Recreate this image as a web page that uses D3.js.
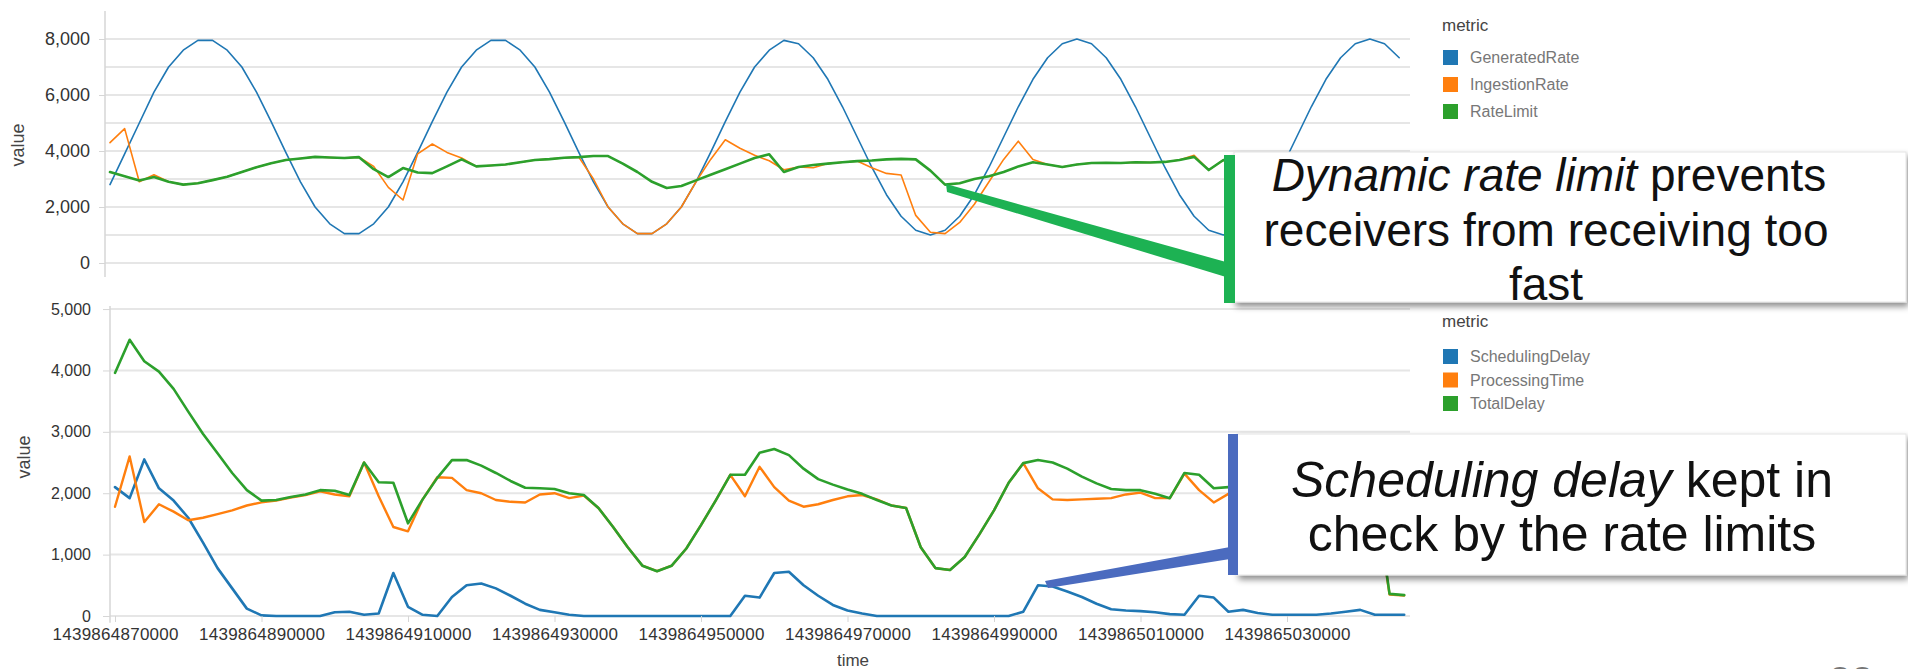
<!DOCTYPE html>
<meta charset="utf-8">
<style>
    body { margin: 0; background: #fff; }
    svg { font-family: "Liberation Sans", Arial, sans-serif; }
    .grid line { stroke: #e6e6e6; stroke-width: 2; }
    .axis path { display: none; }
    .axis line { stroke: #d6d6d6; }
    .axis text { fill: #333; }
    .series { fill: none; stroke-linejoin: round; stroke-linecap: round; }
    .legend text { fill: #777; font-size: 16px; }
    .legend .title { fill: #444; font-size: 17px; }
    .callout text { fill: #111; }
</style>
<svg width="1908" height="669"></svg>
<script src="https://cdn.jsdelivr.net/npm/d3@7/dist/d3.min.js"></script>
<script>

    // ---- data ----
    var T0 = 1439864870000;
    // seconds after T0 for every sample
    var secs = [0, 2, 4, 6, 8, 10, 12, 14, 16, 18, 20, 22, 24, 26, 28, 30, 32, 34, 36, 38,
        40, 42, 44, 46, 48, 50, 52, 54, 56, 58, 60, 62, 64, 66, 68, 70, 72, 74, 76, 78,
        80, 82, 84, 86, 88, 90, 92, 94, 96, 98, 100, 102, 104, 106, 108, 110, 112, 114, 116, 118,
        120, 122, 124, 126, 128, 130, 132, 134, 136, 138, 140, 142, 144, 146, 148, 150, 152, 154, 156, 158,
        160, 162, 164, 166, 168, 170, 172, 174, 176];

    var xTicks = [1439864870000, 1439864890000, 1439864910000, 1439864930000, 1439864950000,
        1439864970000, 1439864990000, 1439865010000, 1439865030000];

    var topTicks = [0, 2000, 4000, 6000, 8000];
    var topGrid = [0, 1000, 2000, 3000, 4000, 5000, 6000, 7000, 8000];
    var botTicks = [0, 1000, 2000, 3000, 4000, 5000];

    var topMetrics = ["GeneratedRate", "IngestionRate", "RateLimit"];
    var botMetrics = ["SchedulingDelay", "ProcessingTime", "TotalDelay"];

    var generatedRate = [2800, 3900, 5000, 6100, 7000, 7600, 7950, 7950, 7600, 7000,
        6100, 5050, 3950, 2900, 2000, 1400, 1050, 1050, 1400, 2000,
        2900, 3950, 5050, 6100, 7000, 7600, 7950, 7950, 7600, 7000,
        6100, 5050, 3950, 2900, 2000, 1400, 1050, 1050, 1400, 2000,
        2900, 3950, 5050, 6100, 7000, 7600, 7950, 7830, 7330, 6560,
        5580, 4500, 3420, 2440, 1670, 1170, 1000, 1170, 1670, 2440,
        3420, 4500, 5580, 6560, 7330, 7830, 8000, 7830, 7330, 6560,
        5580, 4500, 3420, 2440, 1670, 1170, 1000, 1170, 1670, 2440,
        3420, 4500, 5580, 6560, 7330, 7830, 8000, 7830, 7330];

    var ingestionRate = [4300, 4800, 2900, 3150, 2900, 2800, 2850, 2960, 3080, 3250,
        3420, 3560, 3680, 3730, 3790, 3770, 3750, 3780, 3450, 2700,
        2250, 3900, 4250, 3950, 3750, 3450, 3480, 3520, 3600, 3680,
        3710, 3760, 3780, 3000, 2000, 1400, 1050, 1050, 1400, 2000,
        2900, 3700, 4400, 4100, 3850, 3650, 3330, 3430, 3400, 3550,
        3600, 3640, 3400, 3200, 3140, 1700, 1100, 1050, 1450, 2100,
        2900, 3700, 4350, 3700, 3520, 3430, 3520, 3570, 3580, 3570,
        3600, 3590, 3610, 3680, 3850, 3320, 3680, 3000, 2000, 1500,
        1200, 1300, 1900, 2700, 3500, 3600, 3620, 3600, 3610];

    var rateLimit = [3250, 3100, 2950, 3070, 2900, 2800, 2850, 2960, 3080, 3250,
        3420, 3560, 3680, 3730, 3790, 3770, 3750, 3780, 3350, 3070,
        3390, 3230, 3210, 3450, 3700, 3450, 3480, 3520, 3600, 3680,
        3710, 3760, 3780, 3820, 3820, 3550, 3250, 2900, 2680, 2750,
        2950, 3150, 3350, 3550, 3750, 3880, 3250, 3430, 3500, 3550,
        3600, 3640, 3660, 3700, 3720, 3700, 3300, 2800, 2850, 3000,
        3100, 3250, 3450, 3600, 3520, 3430, 3520, 3570, 3580, 3570,
        3600, 3590, 3610, 3680, 3790, 3320, 3680, 3600, 3620, 3580,
        3600, 3620, 3600, 3580, 3600, 3620, 3600, 3610, 3600];

    var schedulingDelay = [2100, 1920, 2550, 2080, 1880, 1600, 1200, 780, 450, 120,
        10, 0, 0, 0, 0, 60, 70, 20, 40, 700,
        150, 20, 0, 310, 500, 530, 450, 330, 200, 100,
        60, 20, 0, 0, 0, 0, 0, 0, 0, 0,
        0, 0, 0, 330, 300, 700, 720, 500, 330, 180,
        90, 40, 0, 0, 0, 0, 0, 0, 0, 0,
        0, 0, 70, 500, 480, 400, 310, 200, 110, 90,
        80, 60, 30, 20, 330, 300, 70, 100, 50, 20,
        20, 20, 20, 40, 70, 100, 20, 20, 20];

    var processingTime = [1780, 2600, 1530, 1820, 1700, 1560, 1600, 1660, 1720, 1800,
        1850, 1880, 1930, 1970, 2030, 1980, 1950, 2500, 1950, 1450,
        1380, 1900, 2260, 2250, 2050, 2000, 1890, 1860, 1850, 1980,
        2000, 1920, 1960, 1760, 1450, 1120, 820, 730, 820, 1100,
        1480, 1880, 2300, 1950, 2430, 2100, 1880, 1780, 1820, 1890,
        1950, 1970, 1900, 1800, 1760, 1120, 780, 750, 960, 1330,
        1720, 2170, 2490, 2080, 1900, 1890, 1900, 1910, 1920, 1980,
        2010, 1920, 1920, 2320, 2050, 1850, 1990, 1950, 1900, 1950,
        2000, 1950, 1900, 1950, 2000, 1980, 1950, 350, 335];

    var totalDelay = [3960, 4500, 4150, 3980, 3700, 3330, 2970, 2650, 2330, 2050,
        1880, 1890, 1940, 1980, 2050, 2040, 1970, 2500, 2180, 2170,
        1510, 1900, 2250, 2540, 2540, 2450, 2330, 2200, 2090, 2080,
        2070, 2000, 1970, 1760, 1450, 1120, 820, 730, 820, 1100,
        1480, 1880, 2300, 2300, 2660, 2720, 2620, 2400, 2230, 2140,
        2060, 1990, 1890, 1800, 1760, 1120, 780, 750, 960, 1330,
        1720, 2170, 2490, 2540, 2500, 2400, 2270, 2160, 2070, 2050,
        2050, 1990, 1920, 2330, 2300, 2080, 2100, 2050, 2000, 2050,
        2100, 2050, 2000, 2050, 2100, 2080, 2050, 360, 340];

    var colors = ["#1f77b4", "#ff7f0e", "#2ca02c"];

    var times = secs.map(function (s) { return T0 + s * 1000; });

    var svg = d3.select("svg");

    var defs = svg.append("defs");
    var shadow = defs.append("filter").attr("id", "shadow")
        .attr("x", "-5%").attr("y", "-10%").attr("width", "115%").attr("height", "130%");
    shadow.append("feDropShadow")
        .attr("dx", 2).attr("dy", 4).attr("stdDeviation", 3)
        .attr("flood-color", "#000").attr("flood-opacity", 0.45);

    // ---- scales ----
    var xTop = d3.scaleLinear().domain([xTicks[0], xTicks[8]]).range([110, 1282]);
    var xBot = d3.scaleLinear().domain([xTicks[0], xTicks[8]]).range([115, 1287]);
    var yTop = d3.scaleLinear().domain([-500, 9000]).range([277, 11]);
    var yBot = d3.scaleLinear().domain([-110, 5050]).range([622.75, 306]);

    function drawPanel(opts) {
        var g = svg.append("g");

        g.append("g").attr("class", "grid")
            .selectAll("line")
            .data(opts.grid)
            .enter().append("line")
            .attr("x1", opts.left).attr("x2", 1410)
            .attr("y1", function (d) { return opts.y(d); })
            .attr("y2", function (d) { return opts.y(d); });

        g.append("line")
            .attr("x1", opts.left).attr("x2", opts.left)
            .attr("y1", opts.y.range()[0]).attr("y2", opts.y.range()[1])
            .attr("stroke", "#d6d6d6").attr("stroke-width", 1.5);

        var ax = g.append("g").attr("class", "axis")
            .attr("transform", "translate(" + opts.left + ",0)")
            .call(d3.axisLeft(opts.y)
                .tickValues(opts.ticks)
                .tickFormat(d3.format(","))
                .tickSize(opts.tickSize)
                .tickPadding(opts.tickPad));
        ax.selectAll("text").style("font-size", opts.labelSize + "px");

        g.append("text")
            .attr("transform", "translate(" + opts.titleX + "," + opts.titleY + ") rotate(-90)")
            .attr("text-anchor", "middle")
            .attr("fill", "#444")
            .style("font-size", "18px")
            .text("value");

        var line = d3.line()
            .x(function (d) { return opts.x(d[0]); })
            .y(function (d) { return opts.y(d[1]); });

        opts.series.forEach(function (vals, k) {
            g.append("path")
                .attr("class", "series")
                .attr("stroke", colors[k])
                .attr("stroke-width", opts.widths[k])
                .attr("d", line(times.map(function (t, i) { return [t, vals[i]]; })));
        });

        var lg = g.append("g").attr("class", "legend");
        lg.append("text").attr("class", "title")
            .attr("x", 1442).attr("y", opts.legY).text("metric");
        opts.names.forEach(function (name, k) {
            var cy = opts.legY + opts.legStart + k * opts.legStep;
            lg.append("rect")
                .attr("x", 1443).attr("y", cy - 7)
                .attr("width", 15).attr("height", 15)
                .attr("fill", colors[k]);
            lg.append("text")
                .attr("x", 1470).attr("y", cy + 6)
                .text(name);
        });
        return g;
    }

    drawPanel({
        x: xTop, y: yTop, left: 105, grid: topGrid, ticks: topTicks,
        tickSize: 6, tickPad: 9, labelSize: 18, titleX: 24, titleY: 145,
        series: [generatedRate, ingestionRate, rateLimit], widths: [1.6, 1.6, 2.6],
        names: topMetrics, legY: 31, legStart: 26, legStep: 27
    });

    var bottom = drawPanel({
        x: xBot, y: yBot, left: 110, grid: botTicks, ticks: botTicks,
        tickSize: 7, tickPad: 12, labelSize: 16, titleX: 30, titleY: 457,
        series: [schedulingDelay, processingTime, totalDelay], widths: [2.6, 2.4, 2.6],
        names: botMetrics, legY: 327, legStart: 29, legStep: 23.5
    });

    var xa = bottom.append("g").attr("class", "axis")
        .attr("transform", "translate(0," + yBot(0) + ")")
        .call(d3.axisBottom(xBot)
            .tickValues(xTicks)
            .tickFormat(d3.format("d"))
            .tickSize(6)
            .tickPadding(6));
    xa.selectAll("text").style("font-size", "17px").attr("textLength", 126);

    bottom.append("text")
        .attr("x", 853).attr("y", 666)
        .attr("text-anchor", "middle")
        .attr("fill", "#444")
        .style("font-size", "17px")
        .text("time");

    // ---- callouts ----
    var c1 = svg.append("g").attr("class", "callout");
    c1.append("polygon")
        .attr("points", "946,184 1226,262 1226,277 947,192")
        .attr("fill", "#1db253");
    c1.append("rect")
        .attr("x", 1234).attr("y", 152).attr("width", 672).attr("height", 150)
        .attr("fill", "#fff").attr("stroke", "#e4e4e4")
        .attr("filter", "url(#shadow)");
    c1.append("rect")
        .attr("x", 1224).attr("y", 155).attr("width", 11).attr("height", 148)
        .attr("fill", "#1db253");
    var t1 = c1.append("text").attr("text-anchor", "middle").style("font-size", "46px");
    var l1 = t1.append("tspan").attr("x", 1549).attr("y", 191);
    l1.append("tspan").attr("font-style", "italic").text("Dynamic rate limit");
    l1.append("tspan").text(" prevents");
    t1.append("tspan").attr("x", 1546).attr("y", 246).text("receivers from receiving too");
    t1.append("tspan").attr("x", 1546).attr("y", 300).text("fast");

    var c2 = svg.append("g").attr("class", "callout");
    c2.append("polygon")
        .attr("points", "1045,581 1230,547 1230,559 1048,588")
        .attr("fill", "#4b6bbf");
    c2.append("rect")
        .attr("x", 1237).attr("y", 434).attr("width", 669).attr("height", 141)
        .attr("fill", "#fff").attr("stroke", "#e4e4e4")
        .attr("filter", "url(#shadow)");
    c2.append("rect")
        .attr("x", 1228).attr("y", 434).attr("width", 10).attr("height", 141)
        .attr("fill", "#4b6bbf");
    var t2 = c2.append("text").attr("text-anchor", "middle").style("font-size", "50px");
    var l2 = t2.append("tspan").attr("x", 1562).attr("y", 497);
    l2.append("tspan").attr("font-style", "italic").text("Scheduling delay");
    l2.append("tspan").text(" kept in");
    t2.append("tspan").attr("x", 1562).attr("y", 551).text("check by the rate limits");

    // slide number, cut by the bottom edge
    svg.append("text")
        .attr("x", 1851).attr("y", 695)
        .attr("text-anchor", "middle")
        .attr("fill", "#777")
        .style("font-size", "40px")
        .text("22");

</script>
